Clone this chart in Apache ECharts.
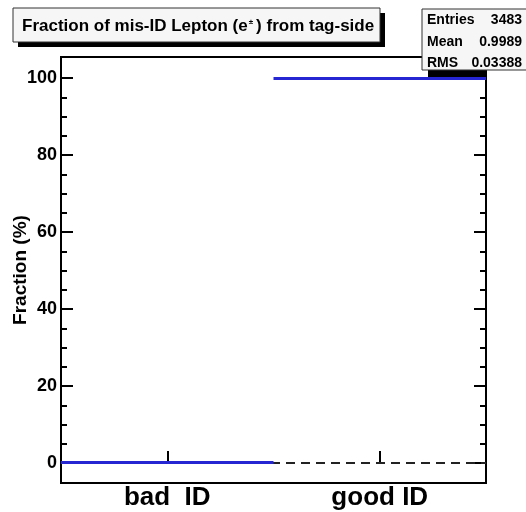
<!DOCTYPE html>
<html>
<head>
<meta charset="utf-8">
<script src="https://cdn.jsdelivr.net/npm/echarts@6/dist/echarts.min.js"></script>
<style>
  html, body { margin: 0; padding: 0; background: #fff; }
  #main { width: 526px; height: 512px; }
</style>
</head>
<body>
<div id="main"></div>
<script>
// mis-ID fraction histogram, two bins
const categories = ['bad  ID', 'good ID']
const fractions = [0.11, 99.89]
const majorTicks = [0, 20, 40, 60, 80, 100]
const minorTicks = [0, 5, 10, 15, 20, 25, 30, 35, 40, 45, 50, 55, 60, 65, 70, 75, 80, 85, 90, 95, 100]
const statNames = ['Entries', 'Mean', 'RMS']
const statValues = ['3483', '0.9989', '0.03388']

const font = "'Liberation Sans', Arial, Helvetica, sans-serif"
const statRows = [20, 42, 63]

let myChart = echarts.init(document.getElementById('main'))

function yAxis (pos, ticks, len, withLabel) {
  return {
    type: 'value',
    position: pos,
    min: -5.2,
    max: 105.5,
    axisLine: { show: false },
    splitLine: { show: false },
    axisTick: {
      show: true,
      inside: true,
      length: len,
      customValues: ticks,
      lineStyle: { color: '#000', width: 2 }
    },
    axisLabel: {
      show: withLabel,
      customValues: majorTicks,
      margin: 4,
      color: '#000',
      fontFamily: font,
      fontWeight: 'bold',
      fontSize: 18
    }
  }
}

let axes = [
  yAxis('left', majorTicks, 12, true),
  yAxis('left', minorTicks, 6, false),
  yAxis('right', majorTicks, 12, false),
  yAxis('right', minorTicks, 6, false)
]
axes[0].name = 'Fraction (%)'
axes[0].nameLocation = 'middle'
axes[0].nameGap = 31
axes[0].nameMoveOverlap = false
axes[0].nameTextStyle = { color: '#000', fontFamily: font, fontWeight: 'bold', fontSize: 19 }

let graphics = [
  // title box
  { type: 'rect', shape: { x: 18, y: 13, width: 367, height: 34 }, style: { fill: '#000' }, z: 100 },
  { type: 'rect', shape: { x: 13, y: 8, width: 367, height: 34 }, style: { fill: '#f6f6f6', stroke: '#333', lineWidth: 1 }, z: 101 },
  {
    type: 'text', x: 22, y: 26, z: 102,
    style: {
      text: '{t|Fraction of mis-ID Lepton (e}{s|±}{t|) from tag-side}',
      verticalAlign: 'middle',
      rich: {
        t: { fontFamily: font, fontWeight: 'bold', fontSize: 17, fill: '#000' },
        s: { fontFamily: font, fontWeight: 'bold', fontSize: 8, fill: '#000', verticalAlign: 'top', padding: [0, 3, 0, 1] }
      }
    }
  },
  // stats box
  { type: 'rect', shape: { x: 428, y: 70, width: 59, height: 7 }, style: { fill: '#000' }, z: 100 },
  { type: 'rect', shape: { x: 422, y: 9, width: 110, height: 61 }, style: { fill: '#f6f6f6', stroke: '#333', lineWidth: 1 }, z: 101 }
]
statNames.forEach((n, i) => {
  graphics.push({
    type: 'text', x: 427, y: statRows[i], z: 102,
    style: { text: n, fontFamily: font, fontWeight: 'bold', fontSize: 14, fill: '#000', verticalAlign: 'middle' }
  })
  graphics.push({
    type: 'text', x: 522, y: statRows[i], z: 102,
    style: { text: statValues[i], fontFamily: font, fontWeight: 'bold', fontSize: 14, fill: '#000', align: 'right', verticalAlign: 'middle' }
  })
})

let options = {
  animation: false,
  backgroundColor: '#fff',
  grid: {
    left: 61, right: 40, top: 57, bottom: 29,
    outerBoundsMode: 'none',
    containLabel: false,
    show: true,
    borderColor: '#000',
    borderWidth: 2,
    backgroundColor: 'transparent'
  },
  xAxis: {
    type: 'category',
    data: categories,
    boundaryGap: true,
    axisLine: { show: false },
    axisTick: {
      show: true,
      inside: true,
      length: 12,
      alignWithLabel: true,
      lineStyle: { color: '#000', width: 2 }
    },
    axisLabel: {
      margin: 2,
      color: '#000',
      fontFamily: font,
      fontWeight: 'bold',
      fontSize: 26
    }
  },
  yAxis: axes,
  series: [{
    type: 'custom',
    yAxisIndex: 0,
    data: fractions.map((v, i) => [i, v]),
    renderItem: function (params, api) {
      let p = api.coord([api.value(0), api.value(1)])
      let w = api.size([1, 0])[0]
      return {
        type: 'line',
        z2: 10,
        shape: { x1: p[0] - w / 2, y1: p[1], x2: p[0] + w / 2, y2: p[1] },
        style: { stroke: '#2626d2', lineWidth: 3 }
      }
    },
    markLine: {
      silent: true,
      symbol: 'none',
      label: { show: false },
      z: 1,
      lineStyle: { color: '#222', type: [9, 6], width: 2 },
      data: [{ yAxis: 0 }]
    }
  }],
  graphic: graphics
}
myChart.setOption(options)
</script>
</body>
</html>
